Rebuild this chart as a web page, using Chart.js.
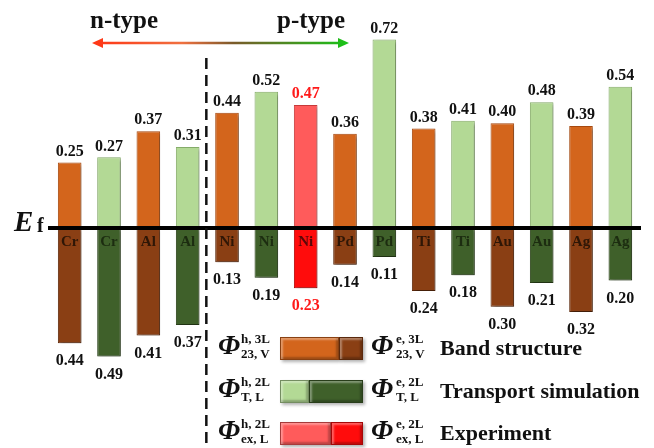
<!DOCTYPE html>
<html>
<head>
<meta charset="utf-8">
<script src="https://cdn.jsdelivr.net/npm/chart.js@4.4.1/dist/chart.umd.min.js"></script>
<style>
  html, body { margin: 0; padding: 0; background: #fff; }
  #wrap { position: relative; width: 654px; height: 448px; overflow: hidden; font-family: 'Liberation Serif', 'Times New Roman', serif; }
  #chart { position: absolute; left: 0; top: 0; }
  .t { position: absolute; white-space: nowrap; font-weight: bold; line-height: 1; color: #111; }
  .lbar { position: absolute; height: 23px; box-sizing: border-box; border: 1px solid rgba(0,0,0,0.35);
          box-shadow: inset 2px 2px 2px rgba(255,255,255,0.35), inset -2px -2px 2px rgba(0,0,0,0.25), 2px 2px 3px rgba(0,0,0,0.3); }
</style>
</head>
<body>
<div id="wrap">
  <canvas id="chart" width="654" height="448"></canvas>
</div>
<script>
// metal contacts, one bar pair per entry
const metals = ['Cr', 'Cr', 'Al', 'Al', 'Ni', 'Ni', 'Ni', 'Pd', 'Pd', 'Ti', 'Ti', 'Au', 'Au', 'Ag', 'Ag'];
const methods = ['band', 'transport', 'band', 'transport', 'band', 'transport', 'experiment',
                 'band', 'transport', 'band', 'transport', 'band', 'transport', 'band', 'transport'];
// hole barrier (above Ef) and electron barrier (below Ef), eV
const holeBarrier = [0.25, 0.27, 0.37, 0.31, 0.44, 0.52, 0.47, 0.36, 0.72, 0.38, 0.41, 0.40, 0.48, 0.39, 0.54];
const electronBarrier = [0.44, 0.49, 0.41, 0.37, 0.13, 0.19, 0.23, 0.14, 0.11, 0.24, 0.18, 0.30, 0.21, 0.32, 0.20];

const palette = {
  band: ['#d3651c', '#8a3f14'],
  transport: ['#b3d995', '#3f602a'],
  experiment: ['#ff5b5b', '#ff0c0c']
};
const borders = {
  band: ['#a84a10', '#5e2a0c'],
  transport: ['#86ad6a', '#2a4219'],
  experiment: ['#c83a3a', '#b30000']
};
const tickColors = { band: '#2e1606', transport: '#1c2c10', experiment: '#5a0808' };

const holeColors = methods.map(m => palette[m][0]);
const electronColors = methods.map(m => palette[m][1]);

const decor = {
  id: 'decor',
  beforeDatasetsDraw(chart) {
    const ctx = chart.ctx;
    ctx.save();
    ctx.shadowColor = 'rgba(0,0,0,0.35)';
    ctx.shadowOffsetX = 2;
    ctx.shadowOffsetY = 2;
    ctx.shadowBlur = 3;
  },
  afterDatasetsDraw(chart) {
    const ctx = chart.ctx;
    ctx.restore();
    ctx.save();
    ctx.font = 'bold 16px "Liberation Serif", serif';
    ctx.textAlign = 'center';
    chart.data.datasets.forEach((ds, di) => {
      chart.getDatasetMeta(di).data.forEach((bar, i) => {
        const v = Math.abs(ds.data[i]).toFixed(2);
        ctx.fillStyle = methods[i] === 'experiment' ? '#ff1a1a' : '#111';
        if (di === 0) {
          ctx.textBaseline = 'bottom';
          ctx.fillText(v, bar.x, bar.y - 3);
        } else {
          ctx.textBaseline = 'top';
          ctx.fillText(v, bar.x, bar.y + 10);
        }
      });
    });
    ctx.restore();
  },
  afterDraw(chart) {
    const ctx = chart.ctx;
    const xs = chart.scales.x;
    // dashed divider between Al and Ni
    const xd = (xs.getPixelForValue(3) + xs.getPixelForValue(4)) / 2 - 1;
    ctx.save();
    ctx.strokeStyle = '#111';
    ctx.lineWidth = 2.5;
    ctx.setLineDash([11, 6]);
    ctx.beginPath();
    ctx.moveTo(xd, 58);
    ctx.lineTo(xd, 448);
    ctx.stroke();
    ctx.setLineDash([]);
    // n-type / p-type arrow
    const x1 = 92, x2 = 349, ya = 43;
    const g = ctx.createLinearGradient(x1, 0, x2, 0);
    g.addColorStop(0, '#ff3414');
    g.addColorStop(0.35, '#f07040');
    g.addColorStop(0.55, '#7a5a2a');
    g.addColorStop(1, '#18c418');
    ctx.strokeStyle = g;
    ctx.fillStyle = g;
    ctx.lineWidth = 2.5;
    ctx.beginPath();
    ctx.moveTo(x1 + 6, ya);
    ctx.lineTo(x2 - 6, ya);
    ctx.stroke();
    ctx.beginPath();
    ctx.moveTo(x1, ya); ctx.lineTo(x1 + 11, ya - 5); ctx.lineTo(x1 + 11, ya + 5); ctx.closePath();
    ctx.fill();
    ctx.beginPath();
    ctx.moveTo(x2, ya); ctx.lineTo(x2 - 11, ya - 5); ctx.lineTo(x2 - 11, ya + 5); ctx.closePath();
    ctx.fill();
    ctx.restore();
  }
};

new Chart(document.getElementById('chart'), {
  type: 'bar',
  data: {
    labels: metals,
    datasets: [{
      label: 'hole barrier',
      data: holeBarrier,
      backgroundColor: holeColors,
      borderColor: methods.map(m => borders[m][0]),
      borderWidth: 1
    }, {
      label: 'electron barrier',
      data: electronBarrier.map(v => -v),
      backgroundColor: electronColors,
      borderColor: methods.map(m => borders[m][1]),
      borderWidth: 1
    }]
  },
  options: {
    responsive: false,
    animation: false,
    layout: { padding: { left: 50, right: 14, top: 29, bottom: 3 } },
    datasets: { bar: { barPercentage: 0.6, categoryPercentage: 1 } },
    plugins: { legend: { display: false }, tooltip: { enabled: false } },
    scales: {
      x: {
        stacked: true,
        position: { y: 0 },
        grid: { display: false, drawTicks: false },
        border: { display: true, color: '#000', width: 4, z: 2 },
        ticks: {
          z: 1,
          autoSkip: false,
          maxRotation: 0,
          padding: 5,
          color: ctx => tickColors[methods[ctx.index]],
          font: { family: 'Liberation Serif', weight: 'bold', size: 15 }
        }
      },
      y: { stacked: true, display: false, min: -0.828, max: 0.76 }
    }
  },
  plugins: [decor]
});

// overlay text and legend
const wrap = document.getElementById('wrap');
function place(html, x, baseline, size, extra) {
  const d = document.createElement('div');
  d.className = 't';
  d.innerHTML = html;
  d.style.left = x + 'px';
  d.style.top = (baseline - 0.8375 * size) + 'px';
  d.style.fontSize = size + 'px';
  if (extra) Object.assign(d.style, extra);
  wrap.appendChild(d);
}
function bar(x, y, w1, w2, c1, c2) {
  const a = document.createElement('div');
  a.className = 'lbar';
  a.style.left = x + 'px'; a.style.top = y + 'px'; a.style.width = w1 + 'px'; a.style.background = c1;
  wrap.appendChild(a);
  const b = document.createElement('div');
  b.className = 'lbar';
  b.style.left = (x + w1) + 'px'; b.style.top = y + 'px'; b.style.width = w2 + 'px'; b.style.background = c2;
  wrap.appendChild(b);
}

place('n-type', 90, 28, 25);
place('p-type', 277, 28, 25);
place('E', 14, 231, 29, { fontStyle: 'italic' });
place('f', 37, 232, 20);

const legendRows = [
  { top: 337, sup: 'h, 3L', sub: '23, V', supE: 'e, 3L', subE: '23, V', split: 59, key: 'band', text: 'Band structure' },
  { top: 380, sup: 'h, 2L', sub: 'T, L', supE: 'e, 2L', subE: 'T, L', split: 29, key: 'transport', text: 'Transport simulation' },
  { top: 422, sup: 'h, 2L', sub: 'ex, L', supE: 'e, 2L', subE: 'ex, L', split: 51, key: 'experiment', text: 'Experiment' }
];
legendRows.forEach(r => {
  place('&Phi;', 218, r.top + 17, 28, { fontStyle: 'italic' });
  place(r.sup, 241, r.top + 6, 13);
  place(r.sub, 241, r.top + 21, 13);
  bar(280, r.top, r.split, 83 - r.split, palette[r.key][0], palette[r.key][1]);
  place('&Phi;', 371, r.top + 17, 28, { fontStyle: 'italic' });
  place(r.supE, 396, r.top + 6, 13);
  place(r.subE, 396, r.top + 21, 13);
  place(r.text, 440, r.top + 18, 22);
});
</script>
</body>
</html>
